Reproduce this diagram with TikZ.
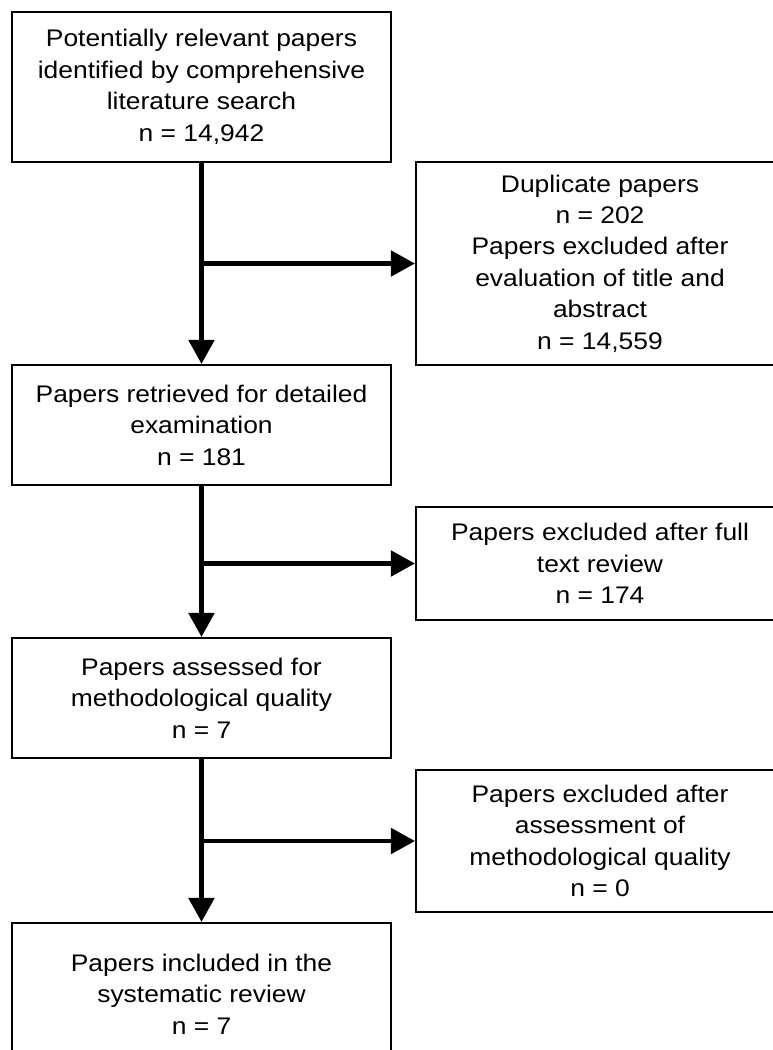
\documentclass[tikz,border=0pt]{standalone}
\usepackage{fontspec}
\setmainfont{Liberation Sans}[FakeStretch=1.1]
\usetikzlibrary{arrows.meta}
\begin{document}
\begin{tikzpicture}[x=0.75pt,y=-0.75pt,
  box/.style={draw, line width=1.6pt, inner sep=0pt, align=center,
    font=\fontsize{18}{23.6}\selectfont, minimum width=284.25pt},
  rbox/.style={box, minimum width=276pt},
  arr/.style={line width=3.2pt, -{Triangle[length=18pt,width=19pt]}}]
\useasboundingbox (0,0) rectangle (773,1050);
\clip (0,0) rectangle (773,1050);
\node[box, minimum height=112.5pt] (b1) at (201.5,87)
  {Potentially relevant papers\\identified by comprehensive\\literature search\\n = 14,942};
\node[rbox, minimum height=152.25pt] (b2) at (600,263.5)
  {Duplicate papers\\n = 202\\Papers excluded after\\evaluation of title and\\abstract\\n = 14,559};
\node[box, minimum height=90pt] (b3) at (201.5,425)
  {Papers retrieved for detailed\\examination\\n = 181};
\node[rbox, minimum height=84.75pt] (b4) at (600,563.5)
  {Papers excluded after full\\text review\\n = 174};
\node[box, minimum height=90pt] (b5) at (201.5,698)
  {Papers assessed for\\methodological quality\\n = 7};
\node[rbox, minimum height=106.5pt] (b6) at (600,841)
  {Papers excluded after\\assessment of\\methodological quality\\n = 0};
\node[box, minimum height=106.5pt] (b7) at (201.5,994)
  {Papers included in the\\systematic review\\n = 7};
\draw[arr] (b1.south) -- (b3.north);
\draw[arr] (b3.south) -- (b5.north);
\draw[arr] (b5.south) -- (b7.north);
\draw[arr] (b2.west -| b1.south) -- (b2.west);
\draw[arr] (b4.west -| b3.south) -- (b4.west);
\draw[arr] (b6.west -| b5.south) -- (b6.west);
\end{tikzpicture}
\end{document}
